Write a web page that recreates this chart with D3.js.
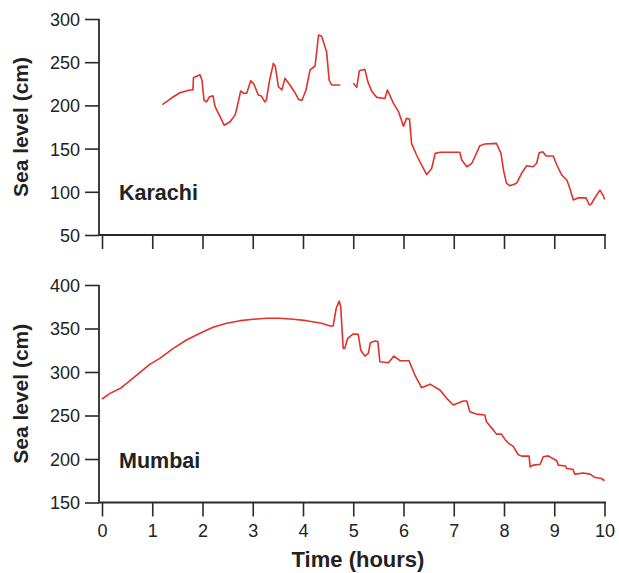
<!DOCTYPE html>
<html>
<head>
<meta charset="utf-8">
<script src="https://cdn.jsdelivr.net/npm/d3@7"></script>
<style>
  html, body { margin: 0; padding: 0; background: #fff; }
  svg { display: block; }
  text { font-family: "Liberation Sans", Arial, Helvetica, sans-serif; fill: #222; }
</style>
</head>
<body>
<svg id="chart" width="619" height="573"></svg>
<script>
// ---- Data ----
const xTicks = [0, 1, 2, 3, 4, 5, 6, 7, 8, 9, 10];
const yTicksKarachi = [50, 100, 150, 200, 250, 300];
const yTicksMumbai = [150, 200, 250, 300, 350, 400];

// Karachi (time in hours, sea level in cm; null = data gap)
const timeKarachi = [1.2, 1.3, 1.42, 1.55, 1.75, 1.81, 1.82, 1.95, 1.99, 2.03, 2.08, 2.14, 2.21, 2.25, 2.35, 2.43, 2.55, 2.65, 2.69, 2.76, 2.82, 2.88, 2.96, 3.02, 3.11, 3.17, 3.24, 3.27, 3.33, 3.41, 3.45, 3.51, 3.58, 3.64, 3.74, 3.84, 3.91, 3.98, 4.06, 4.14, 4.24, 4.31, 4.37, 4.47, 4.52, 4.57, 4.74, 4.87, 5.0, 5.07, 5.12, 5.23, 5.29, 5.37, 5.47, 5.63, 5.68, 5.80, 5.90, 6.0, 6.06, 6.12, 6.16, 6.26, 6.36, 6.46, 6.56, 6.63, 6.73, 7.12, 7.16, 7.26, 7.36, 7.42, 7.52, 7.62, 7.85, 7.94, 7.99, 8.05, 8.12, 8.25, 8.35, 8.45, 8.58, 8.65, 8.70, 8.77, 8.84, 8.98, 9.05, 9.15, 9.25, 9.31, 9.38, 9.48, 9.63, 9.70, 9.74, 9.78, 9.91, 9.98, 10.0];
const seaKarachi = [201, 205, 210, 214.7, 217.8, 218, 232, 235.5, 229, 206, 204, 210, 211, 198.5, 187, 177, 181, 189, 198.5, 216.7, 214, 214, 228.6, 225, 212, 211, 204, 206, 227.5, 248.7, 245, 221.6, 218, 231.3, 223.6, 214.7, 207, 206, 217.8, 241, 245.6, 281.5, 280, 262, 229.4, 223.6, 223.6, null, 225.6, 221, 240, 241.8, 227.5, 216, 209.3, 208, 217.8, 202.4, 192.7, 176, 185, 184, 156, 142.6, 131, 120, 127, 144.5, 145.7, 145.7, 136.8, 129, 133, 140.6, 153.4, 155.3, 156, 144.5, 125, 109.8, 107, 109.8, 121.4, 130.2, 129, 133, 145.3, 146.4, 141.4, 141.4, 131, 119.4, 113.7, 104, 90.5, 93, 93, 84.7, 86, 90.5, 102, 95, 91];

// Mumbai
const timeMumbai = [0, 0.16, 0.36, 0.49, 0.69, 0.95, 1.15, 1.42, 1.68, 1.95, 2.21, 2.48, 2.75, 3.01, 3.28, 3.54, 3.81, 4.07, 4.37, 4.54, 4.60, 4.66, 4.72, 4.75, 4.80, 4.83, 4.89, 5.0, 5.10, 5.15, 5.23, 5.30, 5.34, 5.43, 5.49, 5.53, 5.70, 5.81, 5.93, 6.11, 6.23, 6.36, 6.53, 6.73, 6.86, 6.99, 7.19, 7.26, 7.32, 7.45, 7.62, 7.65, 7.79, 7.85, 7.95, 8.02, 8.09, 8.18, 8.28, 8.35, 8.50, 8.52, 8.59, 8.72, 8.78, 8.88, 9.05, 9.08, 9.22, 9.25, 9.37, 9.41, 9.58, 9.71, 9.81, 9.94, 10.0];
const seaMumbai = [269, 275.4, 281, 287, 296.5, 308.8, 315.7, 327.2, 336.8, 344.5, 351.4, 356, 359, 360.6, 361.7, 361.7, 360.6, 359, 356, 352.9, 352.9, 373, 381.6, 375, 327, 327, 338.7, 343.7, 343.3, 325, 318.3, 321.5, 333.7, 335.6, 335, 311.8, 310.6, 318.3, 313, 313, 296, 281.9, 286, 279, 269.7, 262, 266.6, 266.6, 254.3, 251.6, 250.5, 242.8, 233.2, 228.6, 228.6, 222.5, 218, 214.8, 205.2, 203.3, 203.3, 191, 193, 194, 202.5, 203.6, 198, 193, 192, 189, 188.3, 182.6, 184, 182.6, 178.8, 177.6, 175];

const panels = [
  { name: "Karachi", times: timeKarachi, values: seaKarachi, ticks: yTicksKarachi, top: 19, bottom: 235, labelY: 200, showX: false },
  { name: "Mumbai", times: timeMumbai, values: seaMumbai, ticks: yTicksMumbai, top: 285, bottom: 502.5, labelY: 468, showX: true }
];

// ---- Drawing ----
const svg = d3.select("#chart");
const axisX0 = 99, axisX1 = 606;
const x = d3.scaleLinear().domain([0, 10]).range([102, 604.5]);
const axisColor = "#2a2a2a";
const fontFam = '"Liberation Sans", Arial, sans-serif';

panels.forEach(p => {
  const dom = d3.extent(p.ticks);
  const y = d3.scaleLinear().domain(dom).range([p.bottom, p.top]);
  const g = svg.append("g");

  // y axis
  const ya = g.append("g").attr("transform", `translate(${axisX0},0)`)
    .call(d3.axisLeft(y).tickValues(p.ticks).tickSize(14).tickPadding(5).tickSizeOuter(0));
  ya.select(".domain").remove();
  ya.selectAll(".tick line").attr("stroke", axisColor).attr("stroke-width", 1.6);
  ya.selectAll(".tick text").attr("font-size", 18).attr("fill", "#222")
    .attr("font-family", fontFam).attr("dy", "0.36em");
  g.append("line").attr("x1", axisX0).attr("x2", axisX0)
    .attr("y1", p.top).attr("y2", p.bottom)
    .attr("stroke", axisColor).attr("stroke-width", 1.8);

  // x axis
  const xa = g.append("g").attr("transform", `translate(0,${p.bottom})`)
    .call(d3.axisBottom(x).tickValues(xTicks).tickSize(14).tickPadding(8).tickSizeOuter(0));
  xa.select(".domain").remove();
  xa.selectAll(".tick line").attr("stroke", axisColor).attr("stroke-width", 1.6);
  if (p.showX) {
    xa.selectAll(".tick text").attr("font-size", 18).attr("fill", "#222")
      .attr("font-family", fontFam);
  } else {
    xa.selectAll(".tick text").remove();
  }
  g.append("line").attr("x1", axisX0).attr("x2", axisX1)
    .attr("y1", p.bottom).attr("y2", p.bottom)
    .attr("stroke", axisColor).attr("stroke-width", 1.8);

  // data line
  const pts = p.times.map((t, i) => ({ t, v: p.values[i] }));
  const line = d3.line().defined(d => d.v !== null).x(d => x(d.t)).y(d => y(d.v));
  g.append("path").datum(pts).attr("d", line)
    .attr("fill", "none").attr("stroke", "#e0322b").attr("stroke-width", 1.6)
    .attr("stroke-linejoin", "round");

  // station label
  g.append("text").attr("x", 119).attr("y", p.labelY)
    .attr("font-size", 21.5).attr("font-weight", "bold").text(p.name);

  // y axis title
  g.append("text")
    .attr("transform", `translate(28,${(p.top + p.bottom) / 2}) rotate(-90)`)
    .attr("text-anchor", "middle").attr("font-size", 21).attr("font-weight", "bold")
    .text("Sea level (cm)");
});

svg.append("text").attr("x", 358).attr("y", 567).attr("text-anchor", "middle")
  .attr("font-size", 22).attr("font-weight", "bold").text("Time (hours)");
</script>
</body>
</html>
